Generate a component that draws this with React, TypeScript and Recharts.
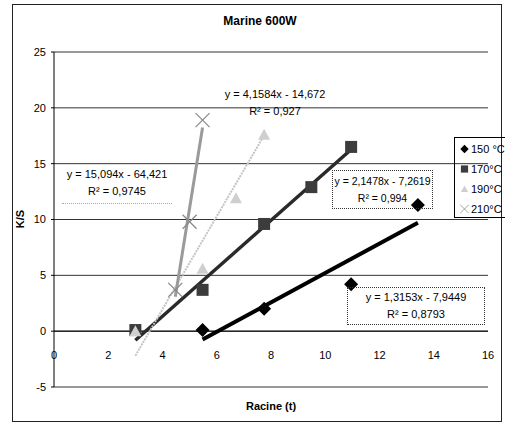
import {
  ScatterChart,
  Scatter,
  XAxis,
  YAxis,
  CartesianGrid,
  ReferenceLine,
} from "recharts";

// racine du temps (sqrt t) et K/S
const X150 = [5.477, 7.746, 10.954, 13.416];
const Y150 = [0.1, 2.0, 4.2, 11.3];
const X170 = [3.0, 5.477, 7.746, 9.487, 10.954];
const Y170 = [0.1, 3.7, 9.6, 12.9, 16.5];
const X190 = [3.0, 5.477, 6.708, 7.746];
const Y190 = [0.0, 5.6, 11.9, 17.6];
const X210 = [4.472, 5.0, 5.477];
const Y210 = [3.7, 9.8, 18.9];

const SERIES_NAMES = ["150 °C", "170°C", "190°C", "210°C"];
// courbes de tendance affichées (pente, ordonnée à l'origine)
const TREND_SLOPE = [1.3153, 2.1478, 4.1584, 15.094];
const TREND_INTERCEPT = [-7.9449, -7.2619, -14.672, -64.421];
const TREND_TEXT = [
  ["y = 1,3153x - 7,9449", "R² = 0,8793"],
  ["y = 2,1478x - 7,2619", "R² = 0,994"],
  ["y = 4,1584x - 14,672", "R² = 0,927"],
  ["y = 15,094x - 64,421", "R² = 0,9745"],
];

const X_TICKS = [0, 2, 4, 6, 8, 10, 12, 14, 16];
const Y_TICKS = [-5, 0, 5, 10, 15, 20, 25];

const FONT = "'Liberation Sans', Arial, sans-serif";

const toPts = (xs: number[], ys: number[]) => xs.map((x, i) => ({ x, y: ys[i] }));
const series = [toPts(X150, Y150), toPts(X170, Y170), toPts(X190, Y190), toPts(X210, Y210)];
const trend = series.map((pts, i) => {
  const xs = pts.map((p) => p.x);
  const lo = Math.min(...xs);
  const hi = Math.max(...xs);
  return [lo, hi].map((x) => ({ x, y: TREND_SLOPE[i] * x + TREND_INTERCEPT[i] }));
});

const Diamond = ({ cx, cy }: any) => (
  <polygon points={`${cx},${cy - 7} ${cx + 7},${cy} ${cx},${cy + 7} ${cx - 7},${cy}`} fill="#000" />
);
const Square = ({ cx, cy }: any) => (
  <rect x={cx - 6} y={cy - 6} width={12} height={12} fill="#3c3c3c" />
);
const Triangle = ({ cx, cy }: any) => (
  <polygon points={`${cx},${cy - 6} ${cx + 6},${cy + 5} ${cx - 6},${cy + 5}`} fill="#cfcfcf" />
);
const XMark = ({ cx, cy }: any) => (
  <g stroke="#8a8a8a" strokeWidth={1.3}>
    <line x1={cx - 7} y1={cy - 7} x2={cx + 7} y2={cy + 7} />
    <line x1={cx - 7} y1={cy + 7} x2={cx + 7} y2={cy - 7} />
  </g>
);
const shapes = [Diamond, Square, Triangle, XMark];
const trendStyle = [
  { stroke: "#000", strokeWidth: 4 },
  { stroke: "#2a2a2a", strokeWidth: 3.5 },
  { stroke: "#c4c4c4", strokeWidth: 2, strokeDasharray: "2 1" },
  { stroke: "#9a9a9a", strokeWidth: 3 },
];

// l'axe des x croise à y = 0 : on remonte les étiquettes
const XTick = ({ x, y, payload }: any) => (
  <text x={x} y={y - 44} dy="0.71em" textAnchor="middle" fontSize={11} fontFamily={FONT} fill="#000">
    {payload.value}
  </text>
);

const LegendBox = () => (
  <div
    style={{
      position: "absolute",
      left: 454,
      top: 137,
      border: "1px solid #000",
      width: 60,
      height: 81,
      boxSizing: "border-box",
      padding: "1px 0 0 4px",
      fontFamily: FONT,
      fontSize: 11,
    }}
  >
    {SERIES_NAMES.map((name, i) => {
      const Shape = shapes[i];
      return (
        <div key={name} style={{ display: "flex", alignItems: "center", height: 20, whiteSpace: "nowrap" }}>
          <svg width={11} height={12}>
            <g transform="translate(5.5,6) scale(0.6) translate(-7,-7)">
              <Shape cx={7} cy={7} />
            </g>
          </svg>
          <span style={{ marginLeft: 1 }}>{name}</span>
        </div>
      );
    })}
  </div>
);

const labelStyle = {
  position: "absolute" as const,
  fontFamily: FONT,
  fontSize: 11,
  lineHeight: "17px",
  textAlign: "center" as const,
  whiteSpace: "nowrap" as const,
  color: "#000",
};

export default function App() {
  return (
    <div
      style={{
        position: "absolute",
        left: 0,
        top: 0,
        width: 505,
        height: 424,
        overflow: "hidden",
        background: "#fff",
        fontFamily: FONT,
      }}
    >
      <div
        style={{
          position: "absolute",
          left: 12,
          top: 4,
          width: 488,
          height: 416,
          border: "1px solid #222",
        }}
      />
      <ScatterChart width={505} height={424} margin={{ top: 52, right: 17, bottom: 0, left: 0 }}>
        <CartesianGrid vertical={false} stroke="#333" />
        <XAxis
          type="number"
          dataKey="x"
          domain={[0, 16]}
          ticks={X_TICKS}
          height={37}
          axisLine={false}
          tickLine={false}
          tick={<XTick />}
          interval={0}
        />
        <YAxis
          type="number"
          dataKey="y"
          domain={[-5, 25]}
          ticks={Y_TICKS}
          width={54}
          axisLine={{ stroke: "#000" }}
          tickLine={{ stroke: "#000" }}
          tickSize={3}
          tickMargin={5}
          tick={{ fontSize: 11, fill: "#000", fontFamily: FONT }}
          interval={0}
        />
        <ReferenceLine y={0} stroke="#000" />
        {trend.map((pts, i) => (
          <Scatter
            key={"t" + i}
            data={pts}
            line={trendStyle[i]}
            shape={() => <g />}
            legendType="none"
            isAnimationActive={false}
          />
        ))}
        {series.map((pts, i) => (
          <Scatter
            key={SERIES_NAMES[i]}
            name={SERIES_NAMES[i]}
            data={pts}
            shape={shapes[i]}
            isAnimationActive={false}
          />
        ))}
      </ScatterChart>

      <LegendBox />

      <div
        style={{
          position: "absolute",
          left: 0,
          top: 14,
          width: 520,
          textAlign: "center",
          fontWeight: "bold",
          fontSize: 12,
        }}
      >
        Marine 600W
      </div>
      <div
        style={{
          position: "absolute",
          left: 0,
          top: 213,
          width: 40,
          textAlign: "center",
          fontWeight: "bold",
          fontSize: 11,
          transform: "rotate(-90deg)",
        }}
      >
        K/S
      </div>
      <div
        style={{
          position: "absolute",
          left: 54,
          top: 400,
          width: 434,
          textAlign: "center",
          fontWeight: "bold",
          fontSize: 11,
        }}
      >
        Racine (t)
      </div>

      {/* étiquettes des courbes de tendance */}
      <div style={{ ...labelStyle, left: 215, top: 86, width: 120 }}>
        <div>{TREND_TEXT[2][0]}</div>
        <div>{TREND_TEXT[2][1]}</div>
      </div>
      <div
        style={{
          ...labelStyle,
          left: 62,
          top: 166,
          width: 110,
          borderBottom: "1px dotted #aaa",
          paddingBottom: 3,
        }}
      >
        <div>{TREND_TEXT[3][0]}</div>
        <div>{TREND_TEXT[3][1]}</div>
      </div>
      <div
        style={{
          ...labelStyle,
          left: 332,
          top: 170,
          width: 101,
          height: 39,
          boxSizing: "border-box",
          border: "1px dotted #333",
          paddingTop: 2,
          fontSize: 10.5,
        }}
      >
        <div>{TREND_TEXT[1][0]}</div>
        <div>{TREND_TEXT[1][1]}</div>
      </div>
      <div
        style={{
          ...labelStyle,
          left: 347,
          top: 287,
          width: 138,
          height: 38,
          boxSizing: "border-box",
          border: "1px dotted #333",
          paddingTop: 1,
        }}
      >
        <div>{TREND_TEXT[0][0]}</div>
        <div>{TREND_TEXT[0][1]}</div>
      </div>
    </div>
  );
}
